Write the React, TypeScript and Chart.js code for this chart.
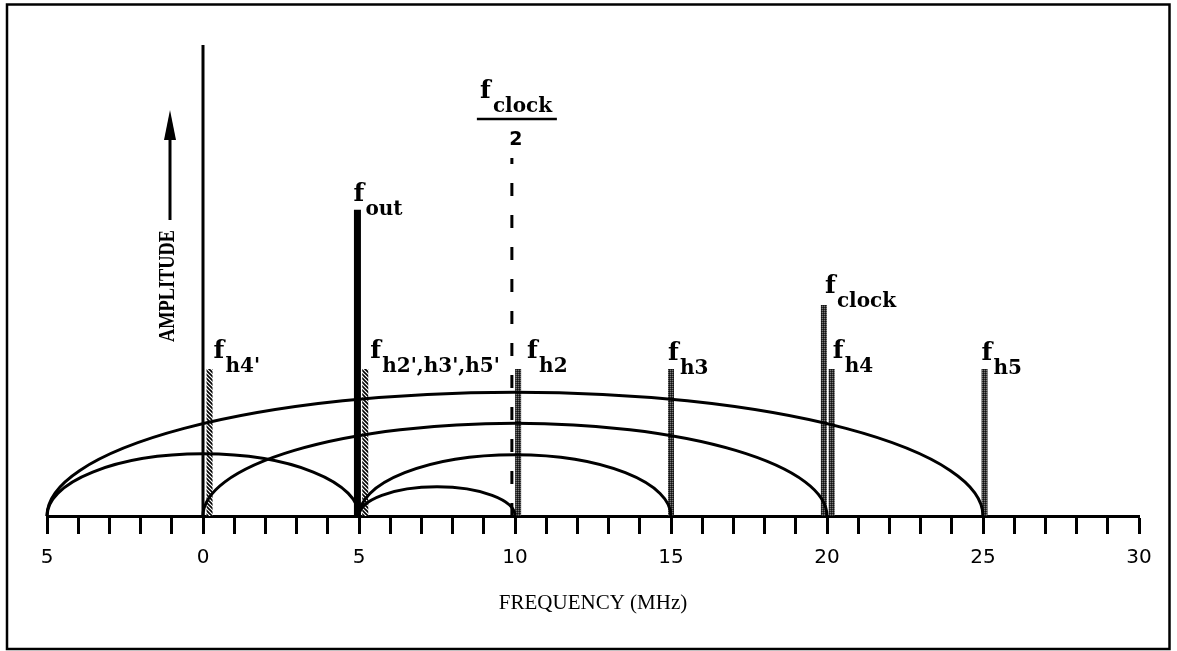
import React, { useEffect, useRef } from 'react';
import { Chart, registerables } from 'chart.js';

Chart.register(...registerables);

// ---- axis ----
const xMin = -5;
const xMax = 30;
const tickValues = [-5, 0, 5, 10, 15, 20, 25, 30];
const tickText = ['5', '0', '5', '10', '15', '20', '25', '30'];
const xTitle = 'FREQUENCY (MHz)';
const yTitle = 'AMPLITUDE';

// ---- spectral lines (MHz, relative amplitude 0..100) ----
const lineFreqs = [0, 0.21, 4.95, 5.2, 9.9, 10.1, 15.0, 19.9, 20.15, 25.05];
const lineTops = [100, 31.2, 65.0, 31.2, 76, 31.2, 31.2, 44.8, 31.2, 31.2];
const lineKinds = ['thin', 'hatch', 'solid', 'hatch', 'dash', 'grey', 'grey', 'grey', 'grey', 'grey'];

// ---- sinc lobes (half-ellipses) ----
const lobeCenters = [0, 10, 10, 10, 7.5];
const lobeHalfWidths = [5, 15, 10, 5, 2.5];
const lobePeaks = [13.2, 26.3, 19.7, 13.0, 6.2];

// ---- labels ----
const labelLine = [1, 2, 3, 5, 6, 7, 8, 9];
const labelSub = ["h4'", 'out', "h2',h3',h5'", 'h2', 'h3', 'clock', 'h4', 'h5'];
const halfClockLine = 4;
const halfClockSub = 'clock';
const halfClockDen = '2';

// label pixel offsets (layout)
const labelDx = [4, -4, 5, 9, -3, 1, 1, -3];
const labelDy = [-11, -9, -11, -11, -9, -12, -11, -9];

const F_FONT = 'bold 25px "DejaVu Serif"';
const SUB_FONT = 'bold 20px "DejaVu Serif"';

function makeHatch(): CanvasPattern | string {
  const c = document.createElement('canvas');
  c.width = 4;
  c.height = 4;
  const g = c.getContext('2d');
  if (!g) return '#000';
  g.fillStyle = '#fff';
  g.fillRect(0, 0, 4, 4);
  g.strokeStyle = '#000';
  g.lineWidth = 1.6;
  g.beginPath();
  g.moveTo(-1, -1); g.lineTo(5, 5);
  g.moveTo(-3, 1); g.lineTo(1, 5);
  g.moveTo(3, -1); g.lineTo(7, 3);
  g.stroke();
  return g.createPattern(c, 'repeat') || '#000';
}

function makeGrey(): CanvasPattern | string {
  const c = document.createElement('canvas');
  c.width = 2;
  c.height = 2;
  const g = c.getContext('2d');
  if (!g) return '#444';
  g.fillStyle = '#333';
  g.fillRect(0, 0, 2, 2);
  g.fillStyle = '#7a7a7a';
  g.fillRect(0, 0, 1, 1);
  g.fillStyle = '#111';
  g.fillRect(1, 1, 1, 1);
  return g.createPattern(c, 'repeat') || '#444';
}

const decor = {
  id: 'decor',
  beforeDraw(chart: any) {
    const ctx = chart.ctx;
    ctx.save();
    ctx.fillStyle = '#fff';
    ctx.fillRect(0, 0, chart.width, chart.height);
    ctx.strokeStyle = '#000';
    ctx.lineWidth = 2.5;
    ctx.strokeRect(7, 4.5, 1162.5, 644.5);
    ctx.restore();
  },
  afterDatasetsDraw(chart: any) {
    const ctx = chart.ctx;
    const xs = chart.scales.x;
    const ys = chart.scales.y;
    const base = ys.getPixelForValue(0);
    ctx.save();
    ctx.strokeStyle = '#000';
    ctx.lineWidth = 3;
    lobeCenters.forEach((c, i) => {
      const cx = xs.getPixelForValue(c);
      const rx = Math.abs(xs.getPixelForValue(c + lobeHalfWidths[i]) - cx);
      const ry = base - ys.getPixelForValue(lobePeaks[i]);
      ctx.beginPath();
      ctx.ellipse(cx, base, rx, ry, 0, Math.PI, 2 * Math.PI);
      ctx.stroke();
    });
    ctx.restore();
  },
  afterDraw(chart: any) {
    const ctx = chart.ctx;
    const xs = chart.scales.x;
    const ys = chart.scales.y;
    const area = chart.chartArea;
    ctx.save();
    ctx.fillStyle = '#000';
    ctx.textAlign = 'left';
    ctx.textBaseline = 'alphabetic';
    labelLine.forEach((li, k) => {
      const px = xs.getPixelForValue(lineFreqs[li]);
      const py = ys.getPixelForValue(lineTops[li]);
      const fx = px + labelDx[k];
      const fy = py + labelDy[k];
      ctx.font = F_FONT;
      ctx.fillText('f', fx, fy);
      ctx.font = SUB_FONT;
      ctx.fillText(labelSub[k], fx + 12, fy + 14);
    });
    // f_clock / 2
    const hx = xs.getPixelForValue(lineFreqs[halfClockLine]);
    const hy = ys.getPixelForValue(lineTops[halfClockLine]);
    ctx.font = F_FONT;
    ctx.fillText('f', hx - 32, hy - 60);
    ctx.font = SUB_FONT;
    ctx.fillText(halfClockSub, hx - 19, hy - 46);
    ctx.lineWidth = 2.5;
    ctx.strokeStyle = '#000';
    ctx.beginPath();
    ctx.moveTo(hx - 35, hy - 39);
    ctx.lineTo(hx + 45, hy - 39);
    ctx.stroke();
    ctx.textAlign = 'center';
    ctx.font = 'bold 19px "DejaVu Sans"';
    ctx.fillText(halfClockDen, hx + 4, hy - 13);

    // x title
    ctx.font = '21px "Liberation Serif"';
    ctx.textAlign = 'center';
    ctx.textBaseline = 'middle';
    ctx.fillText(xTitle, (area.left + area.right) / 2, area.bottom + 87);

    // y title + arrow
    const ax = area.left + 123;
    ctx.save();
    ctx.translate(ax - 3, 286);
    ctx.rotate(-Math.PI / 2);
    ctx.font = 'bold 24px "Liberation Serif"';
    const w = ctx.measureText(yTitle).width;
    ctx.scale(112 / w, 1);
    ctx.textAlign = 'center';
    ctx.textBaseline = 'middle';
    ctx.fillText(yTitle, 0, 1);
    ctx.restore();
    ctx.lineWidth = 3;
    ctx.beginPath();
    ctx.moveTo(ax, 220);
    ctx.lineTo(ax, 136);
    ctx.stroke();
    ctx.beginPath();
    ctx.moveTo(ax, 110);
    ctx.lineTo(ax - 6, 140);
    ctx.lineTo(ax + 6, 140);
    ctx.closePath();
    ctx.fill();
    ctx.restore();
  },
};

export default function App() {
  const ref = useRef<HTMLCanvasElement>(null);
  useEffect(() => {
    const canvas = ref.current;
    if (!canvas) return;
    const hatch = makeHatch();
    const grey = makeGrey();
    const styleFor = (k: string) => {
      switch (k) {
        case 'thin': return { color: '#000', width: 3, dash: [] as number[] };
        case 'hatch': return { color: hatch, width: 6, dash: [] as number[] };
        case 'solid': return { color: '#000', width: 7, dash: [] as number[] };
        case 'dash': return { color: '#000', width: 3, dash: [13, 19] };
        default: return { color: grey, width: 6, dash: [] as number[] };
      }
    };
    const datasets = lineFreqs.map((f, i) => {
      const s = styleFor(lineKinds[i]);
      return {
        label: lineKinds[i] + i,
        data: [{ x: f, y: 0 }, { x: f, y: lineTops[i] }],
        borderColor: s.color as any,
        borderWidth: s.width,
        borderDash: s.dash,
        borderCapStyle: 'butt' as const,
        pointRadius: 0,
        fill: false,
        tension: 0,
        order: lineKinds[i] === 'dash' ? 5 : 1,
      };
    });
    const chart = new Chart(canvas, {
      type: 'line',
      data: { datasets },
      options: {
        animation: false,
        responsive: false,
        events: [],
        layout: { padding: { left: 47, right: 38, top: 45, bottom: 0 } },
        plugins: {
          legend: { display: false },
          tooltip: { enabled: false },
          title: { display: false },
        },
        scales: {
          x: {
            type: 'linear',
            min: xMin,
            max: xMax,
            position: 'bottom',
            afterFit: (s: any) => { s.height = 135; },
            ticks: {
              stepSize: 1,
              autoSkip: false,
              maxRotation: 0,
              minRotation: 0,
              padding: 12,
              color: '#000',
              font: { family: 'DejaVu Sans', size: 20 },
              callback: (v: any) => {
                const i = tickValues.indexOf(Number(v));
                return i >= 0 ? tickText[i] : '';
              },
            },
            grid: {
              drawOnChartArea: false,
              drawTicks: true,
              tickLength: 18,
              tickWidth: 3,
              tickColor: '#000',
            },
            border: { display: true, color: '#000', width: 3 },
          },
          y: { type: 'linear', min: 0, max: 100, display: false },
        },
      },
      plugins: [decor],
    });
    return () => chart.destroy();
  }, []);
  return (
    <canvas
      ref={ref}
      width={1177}
      height={651}
      style={{ position: 'fixed', left: 0, top: 0, display: 'block' }}
    />
  );
}
